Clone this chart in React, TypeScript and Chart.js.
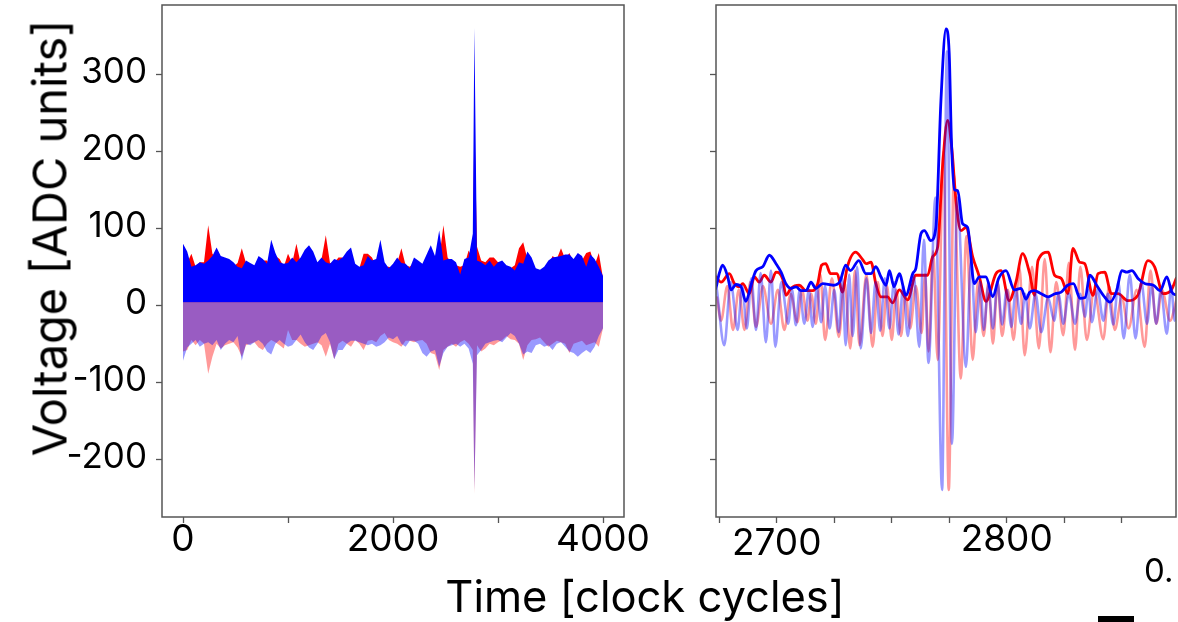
import React, { useEffect, useRef } from 'react';
import { Chart, registerables } from 'chart.js';
Chart.register(...registerables);

// ---------- LEFT PANEL (full trace, band edges per 40 clock cycles) ----------
const leftTime: number[] = [
  ...Array.from({ length: 70 }, (_, i) => i * 40),
  2775,
  ...Array.from({ length: 31 }, (_, i) => 2800 + i * 40),
];

const leftBlueEnvTop = [
  80, 70, 50, 52, 56, 54, 58, 64, 75, 64, 62, 60, 56, 50, 48, 58, 55, 52, 64, 60,
  54, 85, 68, 56, 54, 55, 62, 56, 62, 72, 78, 70, 56, 62, 56, 54,
  60, 58, 62, 70, 75, 54, 50, 52, 64, 58, 60, 85, 56, 48, 54, 62, 55, 54, 48, 62,
  58, 54, 66, 78, 64, 97, 58, 60, 60, 56, 40, 60, 62, 93,
  360,
  58, 56, 52, 58, 50, 56, 58, 52, 50, 45, 56, 54, 70, 62, 48, 46, 50, 58, 62, 63,
  64, 66, 66, 60, 68, 64, 50, 66, 60, 50, 38,
];

const leftRedEnvTop = [
  60, 55, 67, 50, 56, 56, 104, 67, 60, 55, 50, 52, 50, 55, 74, 55, 50, 50, 55, 58,
  58, 50, 64, 60, 50, 67, 55, 80, 55, 50, 55, 55, 50, 60, 91, 55,
  55, 62, 62, 55, 55, 50, 48, 67, 67, 62, 50, 55, 50, 50, 48, 55, 74, 52, 50, 55,
  50, 52, 55, 50, 55, 60, 104, 62, 55, 52, 50, 52, 71, 60,
  240,
  76, 58, 56, 62, 62, 56, 56, 50, 48, 52, 74, 82, 60, 55, 46, 45, 48, 52, 64, 60,
  74, 60, 68, 55, 60, 58, 68, 70, 52, 68, 35,
];

const leftRedRawBottom = [
  -60, -58, -45, -52, -45, -50, -89, -67, -50, -56, -52, -50, -48, -55, -67, -52, -50, -48, -55, -58,
  -50, -45, -48, -52, -56, -32, -45, -45, -50, -54, -52, -50, -48, -52, -67, -50,
  -70, -50, -46, -50, -54, -45, -50, -58, -46, -45, -48, -40, -36, -45, -48, -50, -54, -46, -46, -48,
  -46, -45, -50, -62, -64, -84, -58, -54, -50, -54, -48, -45, -50, -58,
  -245,
  -52, -60, -56, -50, -52, -48, -45, -40, -44, -45, -50, -71, -52, -45, -44, -42, -48, -54, -50, -46,
  -48, -50, -62, -50, -48, -46, -52, -50, -48, -54, -30,
];

const leftBlueRawBottom = [
  -72, -55, -50, -45, -54, -50, -48, -52, -45, -58, -50, -45, -48, -40, -72, -50, -52, -48, -45, -50,
  -60, -64, -50, -45, -50, -54, -52, -45, -38, -48, -55, -58, -50, -40, -36, -48,
  -70, -58, -58, -50, -46, -46, -48, -50, -52, -50, -54, -52, -48, -42, -44, -40, -50, -54, -46, -46,
  -50, -62, -67, -60, -58, -80, -62, -54, -52, -50, -54, -50, -56, -76,
  -240,
  -65, -58, -50, -48, -46, -45, -48, -42, -36, -40, -50, -64, -60, -62, -52, -50, -54, -52, -58, -50,
  -48, -54, -60, -62, -67, -62, -58, -62, -54, -40, -30,
];

// ---------- RIGHT PANEL (zoom around the pulse), [clock cycle, ADC] ----------
const rightBlueEnv: [number, number][] = [
  [2673.6, 22], [2675, 41], [2676.5, 52], [2678.7, 37], [2680.1, 20], [2682.3, 27], [2684.5, 24],
  [2686.6, 5], [2688.8, 26], [2691, 45], [2693.9, 50], [2696.8, 65], [2699.7, 54], [2701.9, 43],
  [2704, 28], [2706.2, 22], [2708.4, 24], [2710.6, 19], [2712.7, 19], [2714.9, 30], [2717, 22],
  [2720, 28], [2724.6, 26], [2727.5, 31], [2730, 52], [2732, 45], [2735.7, 58], [2738.8, 41],
  [2741, 41], [2743.1, 50], [2745.3, 37], [2747.5, 26], [2749, 45], [2751, 24], [2753.3, 41],
  [2756.2, 13], [2759.1, 41], [2760.5, 48], [2762.7, 93], [2764.2, 97], [2767, 84], [2769.2, 101],
  [2771.4, 266], [2773.6, 359], [2775, 327], [2776, 210], [2777.3, 150], [2778.7, 149],
  [2780.8, 106], [2783, 101], [2785.9, 28], [2788.1, 37], [2791, 37], [2793.9, 11], [2796.5, 35],
  [2799.7, 45], [2803.3, 20], [2806.2, 22], [2808.4, 8], [2810, 17], [2812, 19], [2815, 15],
  [2818, 11], [2821, 15], [2823.7, 17], [2826.5, 26], [2829, 28], [2831.9, 9], [2834.1, 10],
  [2836.2, 39], [2839.1, 26], [2842, 13], [2844.9, 4], [2847.8, 19], [2850, 45], [2852.2, 43],
  [2854.4, 45], [2857.3, 34], [2860.2, 28], [2863.8, 26], [2866.7, 19], [2869.6, 37], [2871.8, 17],
  [2873.9, 13],
];

const rightRedEnv: [number, number][] = [
  [2673.6, 37], [2675.8, 30], [2679.4, 41], [2681.6, 28], [2683.7, 24], [2685.2, 28], [2688.1, 15],
  [2690.3, 37], [2692.4, 30], [2694.6, 39], [2697.5, 30], [2699.7, 43], [2702.6, 34], [2704, 13],
  [2706.2, 22], [2709.8, 26], [2712.7, 19], [2715.6, 19], [2717.8, 28], [2719.5, 52], [2721.3, 54],
  [2723.4, 41], [2726.3, 41], [2728.5, 17], [2730.7, 50], [2734.3, 69], [2737.2, 60], [2738.8, 54],
  [2741, 56], [2743.1, 28], [2745.3, 11], [2748.2, 11], [2750.4, 3], [2753.3, 20], [2756.9, 7],
  [2760.5, 39], [2765.6, 39], [2767.8, 63], [2770, 76], [2772.1, 180], [2774.3, 240], [2776.2, 201],
  [2777.9, 137], [2780.1, 97], [2782.3, 101], [2785.2, 63], [2788.1, 37], [2791, 5], [2795.3, 41],
  [2797.5, 45], [2801.1, 6], [2804, 30], [2806.9, 67], [2810, 41], [2812.1, 13], [2813.6, 58],
  [2818, 69], [2820.8, 39], [2823.7, 35], [2826.6, 15], [2828.8, 74], [2831.7, 56], [2833.9, 54],
  [2837.5, 13], [2839.7, 41], [2842.6, 43], [2845.5, 15], [2848.4, 15], [2852.7, 6], [2857, 13],
  [2861.4, 58], [2864.3, 50], [2868, 15], [2871.6, 20], [2873.7, 35],
];

const rightRedRaw: [number, number][] = [
  [2674, 10], [2675.8, -20], [2678.5, 25], [2681, -32], [2683.5, 20], [2686, -32], [2688.5, 30],
  [2691, -28], [2694, 25], [2697.5, -24], [2700.5, 20], [2703.3, -32], [2706, 15], [2709, -22],
  [2711, 20], [2713.4, -20], [2715, 15], [2717, -24], [2719, 40], [2721, -45], [2724, 35],
  [2727, -41], [2729.5, 30], [2732, -56], [2734, 45], [2736, -52], [2739, 40], [2741.7, -54],
  [2744, 30], [2746, -40], [2748, 25], [2750, -45], [2752, 20], [2754, -40], [2756, 15],
  [2758, -30], [2760.5, 25], [2763, -36], [2764.5, 40], [2766, -60], [2768, 70], [2770, -71],
  [2772.5, 200], [2774.8, -240], [2777, 170], [2780, -95], [2782.5, 90], [2785.2, -71],
  [2787.5, 30], [2790, -40], [2792, 30], [2794, -50], [2796, 30], [2798, -40], [2800.5, 20],
  [2803, -45], [2805.5, 50], [2807.8, -65], [2811, 50], [2814, -56], [2816.5, 60], [2819, -61],
  [2821.5, 30], [2824.6, -39], [2827, 55], [2829.7, -58], [2832, 50], [2834.8, -45], [2838, 20],
  [2842, -44], [2844.5, 25], [2847, -32], [2850, 10], [2853, -30], [2856.5, 20], [2860, -54],
  [2862.5, 45], [2865, -24], [2867.5, 20], [2871, -20], [2874, 10],
];

const rightBlueRaw: [number, number][] = [
  [2674, 20], [2677.2, -52], [2680, 30], [2683, -32], [2685, 25], [2687, -30], [2689, 35],
  [2691, -32], [2693, 42], [2695.3, -48], [2697.5, 45], [2699.4, -54], [2702, 30], [2705, -24],
  [2706.7, 20], [2708.3, -26], [2710, 20], [2712, -24], [2714, 20], [2715.6, -28], [2717.5, 22],
  [2719.3, -22], [2721, 25], [2723, -30], [2725, 20], [2727, -35], [2728.5, 35], [2730, -52],
  [2731.5, 40], [2733, -40], [2735, 50], [2736.5, -56], [2739, 35], [2741, -36], [2743, 30],
  [2745, -33], [2747, 35], [2749, -30], [2751, 30], [2753, -38], [2755, 25], [2757, -40],
  [2759.5, 40], [2762, -54], [2764, 85], [2766, -75], [2769, 140], [2771.9, -240], [2774, 330],
  [2776.2, -180], [2778.5, 140], [2782.3, -80], [2784.5, 60], [2786.5, -35], [2788.5, 30],
  [2790, -32], [2792, 25], [2794, -30], [2796, 30], [2798, -25], [2800, 20], [2802, -28],
  [2804, 20], [2806.3, -24], [2808, 15], [2810, -30], [2812.5, 15], [2815, -35], [2818, 10],
  [2820.6, -20], [2822.5, 15], [2824.6, -24], [2827, 15], [2829.7, -24], [2832, 15], [2834, -15],
  [2835.5, 20], [2837, -22], [2839.5, 20], [2842, -20], [2844, 15], [2846.4, -25], [2848.5, 30],
  [2850.9, -43], [2853.5, 40], [2856, -43], [2858.5, 30], [2861, -24], [2863, 25], [2865, -24],
  [2867, 20], [2869.6, -37], [2871.5, 25], [2873, -20], [2874, 10],
];

const yTicks = [-200, -100, 0, 100, 200, 300];
const leftXTicks = [0, 1000, 2000, 3000, 4000];
const leftXLabels = [0, 2000, 4000];
const rightXTicks = [2675, 2700, 2725, 2750, 2775, 2800, 2825, 2850];
const rightXLabels = [2700, 2800];

// ---------- styling ----------
const FONT = 'Inter, "Liberation Sans", Arial, sans-serif';
const BLUE = '#0000ff';
const RED = '#ff0000';
const BLUE_RAW = 'rgba(0,0,255,0.4)';
const RED_RAW = 'rgba(255,0,0,0.4)';
const FRAME = '#555555';
const NONE = 'rgba(0,0,0,0)';

const zip = (xs: number[], ys: number[]) => xs.map((x, i) => ({ x, y: ys[i] }));
const pairs = (p: [number, number][]) => p.map(([x, y]) => ({ x, y }));

const framePlugin = {
  id: 'frame',
  afterDraw(chart: any) {
    const { ctx, chartArea: a } = chart;
    ctx.save();
    ctx.strokeStyle = FRAME;
    ctx.lineWidth = 1.5;
    ctx.strokeRect(a.left, a.top, a.right - a.left, a.bottom - a.top);
    ctx.restore();
  },
};

const gridOpts = {
  display: true,
  drawOnChartArea: false,
  drawTicks: true,
  tickLength: 6,
  tickColor: FRAME,
  tickWidth: 1.3,
};

function yScale(showLabels: boolean, width: number) {
  return {
    type: 'linear',
    min: -275,
    max: 390,
    border: { display: false },
    grid: gridOpts,
    afterBuildTicks: (s: any) => {
      s.ticks = yTicks.map((v) => ({ value: v }));
    },
    ticks: {
      display: showLabels,
      padding: 9,
      labelOffset: -2,
      color: '#000',
      font: { family: FONT, size: 35, lineHeight: 1 },
      callback: (v: any) => String(v),
    },
    afterFit: (s: any) => {
      s.width = width;
      s.paddingTop = 0;
      s.paddingBottom = 0;
    },
  };
}

function xScale(min: number, max: number, tickVals: number[], labels: number[], lowered: number[]) {
  return {
    type: 'linear',
    min,
    max,
    border: { display: false },
    grid: gridOpts,
    afterBuildTicks: (s: any) => {
      s.ticks = tickVals.map((v) => ({ value: v }));
    },
    ticks: {
      autoSkip: false,
      maxRotation: 0,
      minRotation: 0,
      padding: -1.5,
      color: '#000',
      font: (ctx: any) => ({
        family: FONT,
        size: 37,
        lineHeight: ctx.tick && lowered.includes(ctx.tick.value) ? 1.22 : 1,
      }),
      callback: (v: any) => (labels.includes(Number(v)) ? String(v) : ''),
    },
    afterFit: (s: any) => {
      s.height = 60;
      s.paddingLeft = 0;
      s.paddingRight = 0;
    },
  };
}

function baseOptions(scales: any, padding: any) {
  return {
    animation: false,
    responsive: false,
    maintainAspectRatio: false,
    events: [],
    layout: { padding },
    plugins: { legend: { display: false }, tooltip: { enabled: false }, title: { display: false } },
    elements: { point: { radius: 0 } },
    scales,
  };
}

export default function App() {
  const leftRef = useRef<HTMLCanvasElement>(null);
  const rightRef = useRef<HTMLCanvasElement>(null);

  useEffect(() => {
    document.body.style.margin = '0';
    const band = (data: any, color: string, base: number) => ({
      data,
      backgroundColor: color,
      borderColor: NONE,
      borderWidth: 0,
      fill: { value: base },
      tension: 0,
      pointRadius: 0,
    });
    const left = new Chart(leftRef.current!, {
      type: 'line',
      data: {
        datasets: [
          band(zip(leftTime, leftBlueEnvTop), BLUE, 4),
          band(zip(leftTime, leftBlueRawBottom), BLUE_RAW, 4),
          band(zip(leftTime, leftRedRawBottom), RED_RAW, 4),
          band(zip(leftTime, leftRedEnvTop), RED, 4),
        ] as any,
      },
      options: baseOptions(
        { x: xScale(-200, 4200, leftXTicks, leftXLabels, []), y: yScale(true, 162) },
        { left: 0, top: 5, right: 76, bottom: 45 }
      ) as any,
      plugins: [framePlugin],
    });

    const line = (data: any, color: string, w: number) => ({
      data,
      borderColor: color,
      backgroundColor: color,
      borderWidth: w,
      fill: false,
      pointRadius: 0,
      cubicInterpolationMode: 'monotone',
      borderJoinStyle: 'round',
      borderCapStyle: 'round',
    });
    const right = new Chart(rightRef.current!, {
      type: 'line',
      data: {
        datasets: [
          line(pairs(rightBlueEnv), BLUE, 2.8),
          line(pairs(rightBlueRaw), BLUE_RAW, 2.6),
          line(pairs(rightRedRaw), RED_RAW, 2.6),
          line(pairs(rightRedEnv), RED, 2.8),
        ] as any,
      },
      options: baseOptions(
        { x: xScale(2673.6, 2873.6, rightXTicks, rightXLabels, [2700]), y: yScale(false, 16) },
        { left: 0, top: 5, right: 2, bottom: 45 }
      ) as any,
      plugins: [framePlugin],
    });
    return () => {
      left.destroy();
      right.destroy();
    };
  }, []);

  const text: React.CSSProperties = {
    position: 'absolute',
    fontFamily: FONT,
    color: '#000',
    whiteSpace: 'nowrap',
    lineHeight: 1,
  };

  return (
    <div style={{ position: 'absolute', left: 0, top: 0, width: 1178, height: 622, overflow: 'hidden', background: '#fff' }}>
      <canvas ref={leftRef} width={700} height={622} style={{ position: 'absolute', left: 0, top: 0, width: 700, height: 622 }} />
      <canvas ref={rightRef} width={478} height={622} style={{ position: 'absolute', left: 700, top: 0, width: 478, height: 622 }} />
      <div
        style={{
          ...text,
          fontSize: 47,
          left: 49,
          top: 238,
          transform: 'translate(-50%, -50%) rotate(-90deg)',
        }}
      >
        Voltage [ADC units]
      </div>
      <div style={{ ...text, fontSize: 43.5, left: 645, top: 597, transform: 'translate(-50%, -50%)' }}>
        Time [clock cycles]
      </div>
      <div style={{ ...text, fontSize: 33, left: 1144, top: 554 }}>0.</div>
      <div style={{ position: 'absolute', left: 1098, top: 616, width: 36, height: 6, background: '#000' }} />
    </div>
  );
}
